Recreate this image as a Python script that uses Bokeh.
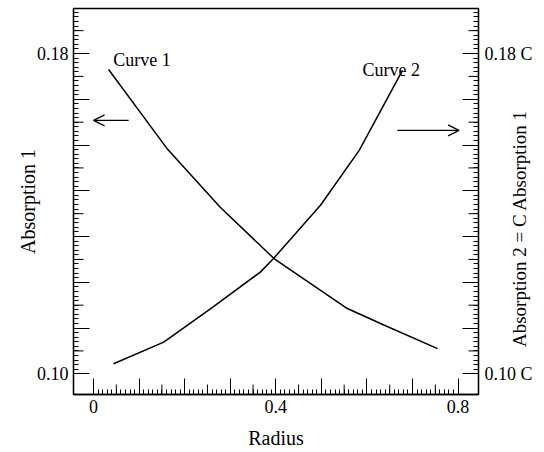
import math
from bokeh.plotting import figure
from bokeh.models import (Range1d, LinearAxis, FixedTicker, CustomJSTickFormatter,
                          Arrow, OpenHead)
from bokeh.core.properties import value
from bokeh.embed import file_html
from bokeh.resources import INLINE

# ---------------- data ----------------
curve1_radius = [0.033, 0.161, 0.278, 0.396, 0.557, 0.637, 0.755]
curve1_absorption = [0.1760, 0.1563, 0.1416, 0.1288, 0.1163, 0.1122, 0.1063]

curve2_radius = [0.044, 0.154, 0.261, 0.366, 0.395, 0.498, 0.583, 0.678]
curve2_absorption = [0.1025, 0.1079, 0.1166, 0.1254, 0.1288, 0.1421, 0.1558, 0.1758]

x_label_values = [0.0, 0.4, 0.8]
x_label_texts = ["0", "0.4", "0.8"]
y_label_values = [0.10, 0.18]
y_left_texts = ["0.10", "0.18"]
y_right_texts = ["0.10 C", "0.18 C"]

curve_names = ["Curve 1", "Curve 2"]
curve_name_x = [0.043, 0.590]
curve_name_y = [0.1784, 0.1759]

x_title = "Radius"
y_left_title = "Absorption 1"
y_right_title = "Absorption 2 = C Absorption 1"

FONT = "Liberation Serif"

# ---------------- tick positions ----------------
x_major = [round(0.1 * i, 10) for i in range(9)]
x_minor = [round(0.01 * i, 10) for i in range(81) if i % 10]
x_medium = [round(0.05 + 0.1 * i, 10) for i in range(8)]

y_step = (y_label_values[1] - y_label_values[0]) / 7
y_major = [y_label_values[0] + y_step * k for k in range(9)]
y_minor = [y_label_values[0] + y_step * k / 10 for k in range(81) if k % 10]
y_medium = [y_label_values[0] + y_step * (k + 0.5) for k in range(8)]

fmt_code = """
for (let i = 0; i < vals.length; i++) {
  if (Math.abs(tick - vals[i]) < 1e-9) { return labs[i]; }
}
return "";
"""

p = figure(width=544, height=452,
           x_range=Range1d(-0.044, 0.8448), y_range=Range1d(0.09483, 0.19125),
           output_backend="svg", toolbar_location=None,
           min_border_left=73, min_border_right=66, min_border_top=8, min_border_bottom=58)
p.xgrid.visible = False
p.ygrid.visible = False
p.outline_line_color = "black"
p.outline_line_width = 1.3
p.background_fill_color = "white"
p.border_fill_color = "white"

right_axis = LinearAxis()
p.add_layout(right_axis, "right")


def style_axis(ax, ticks, minors, vals, labs, fsize="18px"):
    ax.ticker = FixedTicker(ticks=ticks, minor_ticks=minors)
    ax.formatter = CustomJSTickFormatter(args=dict(vals=vals, labs=labs), code=fmt_code)
    ax.axis_line_color = "black"
    ax.axis_line_width = 1.3
    ax.major_tick_in = 16
    ax.major_tick_out = 0
    ax.minor_tick_in = 5
    ax.minor_tick_out = 0
    ax.major_tick_line_color = "black"
    ax.minor_tick_line_color = "black"
    ax.major_tick_line_width = 1
    ax.minor_tick_line_width = 1
    ax.major_label_text_font = FONT
    ax.major_label_text_font_size = fsize
    ax.major_label_text_color = "black"
    ax.axis_label_text_font = FONT
    ax.axis_label_text_font_size = "20px"
    ax.axis_label_text_font_style = "normal"
    ax.axis_label_text_color = "black"


style_axis(p.xaxis[0], x_major, x_minor, x_label_values, x_label_texts)
style_axis(p.yaxis[0], y_major, y_minor, y_label_values, y_left_texts)
style_axis(right_axis, y_major, y_minor, y_label_values, y_right_texts)

p.xaxis[0].axis_label = x_title
p.xaxis[0].major_label_standoff = 5
p.xaxis[0].axis_label_standoff = 11
p.yaxis[0].axis_label = y_left_title
p.yaxis[0].major_label_standoff = 5
p.yaxis[0].axis_label_standoff = -5

# right title: reads bottom-to-top, starting a little above the bottom of the frame
right_axis.major_label_standoff = 6
right_axis.axis_label_text_font_size = "19px"
right_axis.axis_label = "\u00a0" * 10 + y_right_title
right_axis.axis_label_standoff = -16
props = right_axis.properties()
if "axis_label_orientation" in props:
    right_axis.axis_label_orientation = math.pi / 2
if "axis_label_align" in props:
    right_axis.axis_label_align = "start"

# medium ticks (half-way between major ticks)
ys0 = p.y_range.start
xs0 = p.x_range.start
xs1 = p.x_range.end
p.ray(x=x_medium, y=[ys0] * len(x_medium), length=10, angle=math.pi / 2,
      length_units="screen", line_color="black", line_width=1)
p.ray(x=[xs0] * len(y_medium), y=y_medium, length=10, angle=0,
      length_units="screen", line_color="black", line_width=1)
p.ray(x=[xs1] * len(y_medium), y=y_medium, length=10, angle=math.pi,
      length_units="screen", line_color="black", line_width=1)

# curves
p.line(curve1_radius, curve1_absorption, line_color="black", line_width=1.5)
p.line(curve2_radius, curve2_absorption, line_color="black", line_width=1.5)

p.text(x=curve_name_x, y=curve_name_y, text=curve_names,
       text_font=value(FONT), text_font_size="18px", text_color="black",
       text_align="left", text_baseline="alphabetic")

# arrows
p.add_layout(Arrow(end=OpenHead(size=11, line_width=1.2, line_color="black"),
                   x_start=0.077, y_start=0.1633, x_end=0.0, y_end=0.1633,
                   line_width=1.3, line_color="black"))
p.add_layout(Arrow(end=OpenHead(size=11, line_width=1.2, line_color="black"),
                   x_start=0.667, y_start=0.1608, x_end=0.802, y_end=0.1608,
                   line_width=1.3, line_color="black"))

open("out.html", "w").write(file_html(p, INLINE))
